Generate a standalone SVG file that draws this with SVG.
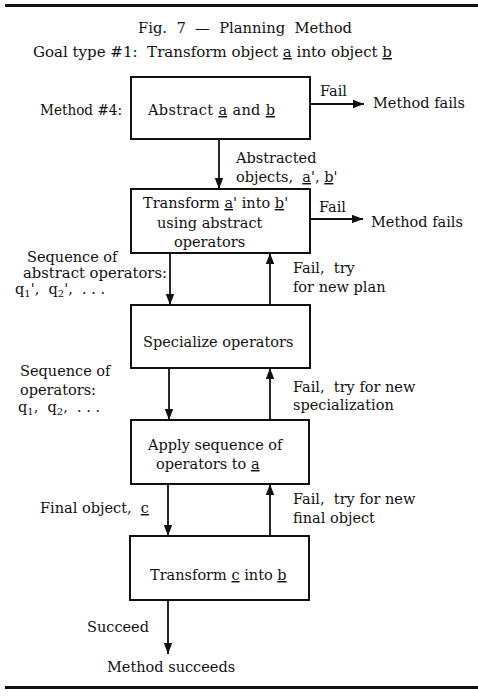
<svg xmlns="http://www.w3.org/2000/svg" width="478" height="696" viewBox="0 0 478 696">
  <defs>
    <marker id="arrow" markerUnits="userSpaceOnUse" markerWidth="12" markerHeight="10" refX="11" refY="5" orient="auto">
      <path d="M0,0.8 L11,5 L0,9.2 Z" fill="#111"/>
    </marker>
    <style>
      text { font-family: "DejaVu Serif", "Liberation Serif", serif; font-size: 14.5px; fill: #111; white-space: pre; }
      .title { font-size: 15.5px; }
      .box { fill: #fff; stroke: #111; stroke-width: 2; }
      .rule { stroke: #111; stroke-width: 3; }
      .edge { stroke: #111; stroke-width: 1.8; fill: none; marker-end: url(#arrow); }
      .u { text-decoration: underline; }
      .sub { font-size: 10px; }
    </style>
  </defs>

  <rect width="478" height="696" fill="#fff"/>

  <!-- page rules -->
  <line class="rule" x1="5" y1="5.5" x2="478" y2="5.5"/>
  <line class="rule" x1="5" y1="687.5" x2="478" y2="687.5"/>

  <!-- heading -->
  <text class="title" x="245" y="33" text-anchor="middle" textLength="214" lengthAdjust="spacingAndGlyphs" xml:space="preserve">Fig.  7  —  Planning  Method</text>
  <text x="33" y="57" textLength="359" lengthAdjust="spacingAndGlyphs" xml:space="preserve">Goal type #1:  Transform object <tspan class="u">a</tspan> into object <tspan class="u">b</tspan></text>
  <text x="40" y="115" textLength="82" lengthAdjust="spacingAndGlyphs">Method #4:</text>

  <!-- connectors -->
  <g id="connectors">
    <line class="edge" x1="310" y1="104" x2="364" y2="104"/>
    <line class="edge" x1="219" y1="139" x2="219" y2="189"/>
    <line class="edge" x1="310" y1="219" x2="363" y2="219"/>
    <line class="edge" x1="170" y1="253" x2="170" y2="305"/>
    <line class="edge" x1="270" y1="305" x2="270" y2="253"/>
    <line class="edge" x1="169" y1="368" x2="169" y2="420"/>
    <line class="edge" x1="270" y1="420" x2="270" y2="368"/>
    <line class="edge" x1="168" y1="484" x2="168" y2="536"/>
    <line class="edge" x1="270" y1="536" x2="270" y2="484"/>
    <line class="edge" x1="168" y1="600" x2="168" y2="654"/>
  </g>

  <!-- connector labels -->
  <g id="labels">
    <text x="320" y="96">Fail</text>
    <text x="373" y="108">Method fails</text>
    <text x="236" y="163">Abstracted</text>
    <text x="236" y="182" xml:space="preserve">objects,  <tspan class="u">a</tspan>', <tspan class="u">b</tspan>'</text>
    <text x="319" y="212">Fail</text>
    <text x="371" y="227">Method fails</text>
    <text x="27" y="262">Sequence of</text>
    <text x="23" y="278" textLength="144" lengthAdjust="spacingAndGlyphs">abstract operators:</text>
    <text x="15" y="294" xml:space="preserve">q<tspan class="sub" dy="3">1</tspan><tspan dy="-3">',  q</tspan><tspan class="sub" dy="3">2</tspan><tspan dy="-3">',  . . .</tspan></text>
    <text x="293" y="273" xml:space="preserve">Fail,  try</text>
    <text x="293" y="292">for new plan</text>
    <text x="20" y="376">Sequence of</text>
    <text x="20" y="395">operators:</text>
    <text x="18" y="412" xml:space="preserve">q<tspan class="sub" dy="3">1</tspan><tspan dy="-3">,  q</tspan><tspan class="sub" dy="3">2</tspan><tspan dy="-3">,  . . .</tspan></text>
    <text x="293" y="392" xml:space="preserve">Fail,  try for new</text>
    <text x="293" y="410">specialization</text>
    <text x="40" y="513" xml:space="preserve">Final object,  <tspan class="u">c</tspan></text>
    <text x="293" y="504" xml:space="preserve">Fail,  try for new</text>
    <text x="293" y="523">final object</text>
    <text x="87" y="632">Succeed</text>
    <text x="107" y="672">Method succeeds</text>
  </g>

  <!-- process boxes -->
  <g id="abstract">
    <rect class="box" x="131" y="77" width="179" height="62"/>
    <text x="148" y="115" textLength="127" lengthAdjust="spacing">Abstract <tspan class="u">a</tspan> and <tspan class="u">b</tspan></text>
  </g>
  <g id="transform-abstract">
    <rect class="box" x="131" y="189" width="179" height="64"/>
    <text x="143" y="208">Transform <tspan class="u">a</tspan>' into <tspan class="u">b</tspan>'</text>
    <text x="157" y="228">using abstract</text>
    <text x="174" y="247">operators</text>
  </g>
  <g id="specialize">
    <rect class="box" x="131" y="305" width="179" height="63"/>
    <text x="143" y="347">Specialize operators</text>
  </g>
  <g id="apply">
    <rect class="box" x="131" y="420" width="178" height="64"/>
    <text x="148" y="450">Apply sequence of</text>
    <text x="156" y="469">operators to <tspan class="u">a</tspan></text>
  </g>
  <g id="transform-final">
    <rect class="box" x="130" y="536" width="179" height="64"/>
    <text x="150" y="580">Transform <tspan class="u">c</tspan> into <tspan class="u">b</tspan></text>
  </g>
</svg>
